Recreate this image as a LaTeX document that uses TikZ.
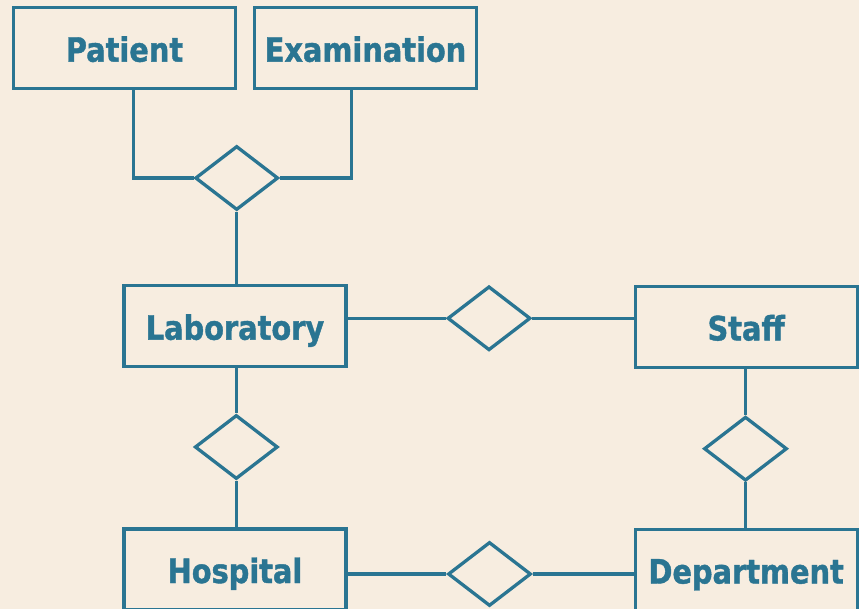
\documentclass[tikz,border=0pt]{standalone}
\usepackage{fontspec}
\newfontfamily\lblfont{DejaVu Sans Bold}[FakeStretch=0.86, FakeBold=1.2]
\usetikzlibrary{shapes.geometric}
\definecolor{bgc}{RGB}{247,237,224}
\definecolor{linec}{RGB}{42,117,146}
\begin{document}
\begin{tikzpicture}[x=1pt,y=-1pt,
  entity/.style={draw=linec, line width=3.3pt, rectangle, minimum width=222pt, minimum height=81pt, inner sep=0pt,
     text height=27pt, text depth=0pt,
     text=linec, font=\lblfont\fontsize{33.5}{40}\selectfont},
  rel/.style={draw=linec, line width=3.3pt, diamond, minimum width=83pt, minimum height=64pt, inner sep=0pt},
  conn/.style={draw=linec, line width=3.3pt}]
\fill[bgc] (0,0) rectangle (859,609);
\clip (0,0) rectangle (859,609);
\node[entity] (pat) at (124.5,48.2) {Patient};
\node[entity] (exa) at (365.5,48.2) {Examination};
\node[entity] (lab) at (235,326.2) {Laboratory};
\node[entity] (sta) at (746.2,326.9) {Staff};
\node[entity] (hos) at (235,569.5) {Hospital};
\node[entity] (dep) at (746.2,570) {Department};
\node[rel] (r1) at (236.7,178) {};
\node[rel] (r3) at (489,318.3) {};
\node[rel] (r2) at (236.3,447) {};
\node[rel] (r4) at (745.5,448.7) {};
\node[rel] (r5) at (489.5,574) {};
\draw[conn] ([xshift=9pt]pat.south) |- (r1.west);
\draw[conn] ([xshift=-14pt]exa.south) |- (r1.east);
\draw[conn] (r1.south) -- (r1.south |- lab.north);
\draw[conn] (r2.north |- lab.south) -- (r2.north);
\draw[conn] (r2.south) -- (r2.south |- hos.north);
\draw[conn] (r3.west -| lab.east) -- (r3.west);
\draw[conn] (r3.east) -- (r3.east -| sta.west);
\draw[conn] ([yshift=3pt]r4.north |- sta.south) -- (r4.north);
\draw[conn] (r4.south) -- (r4.south |- dep.north);
\draw[conn] (r5.west -| hos.east) -- (r5.west);
\draw[conn] (r5.east) -- (r5.east -| dep.west);
\end{tikzpicture}
\end{document}
